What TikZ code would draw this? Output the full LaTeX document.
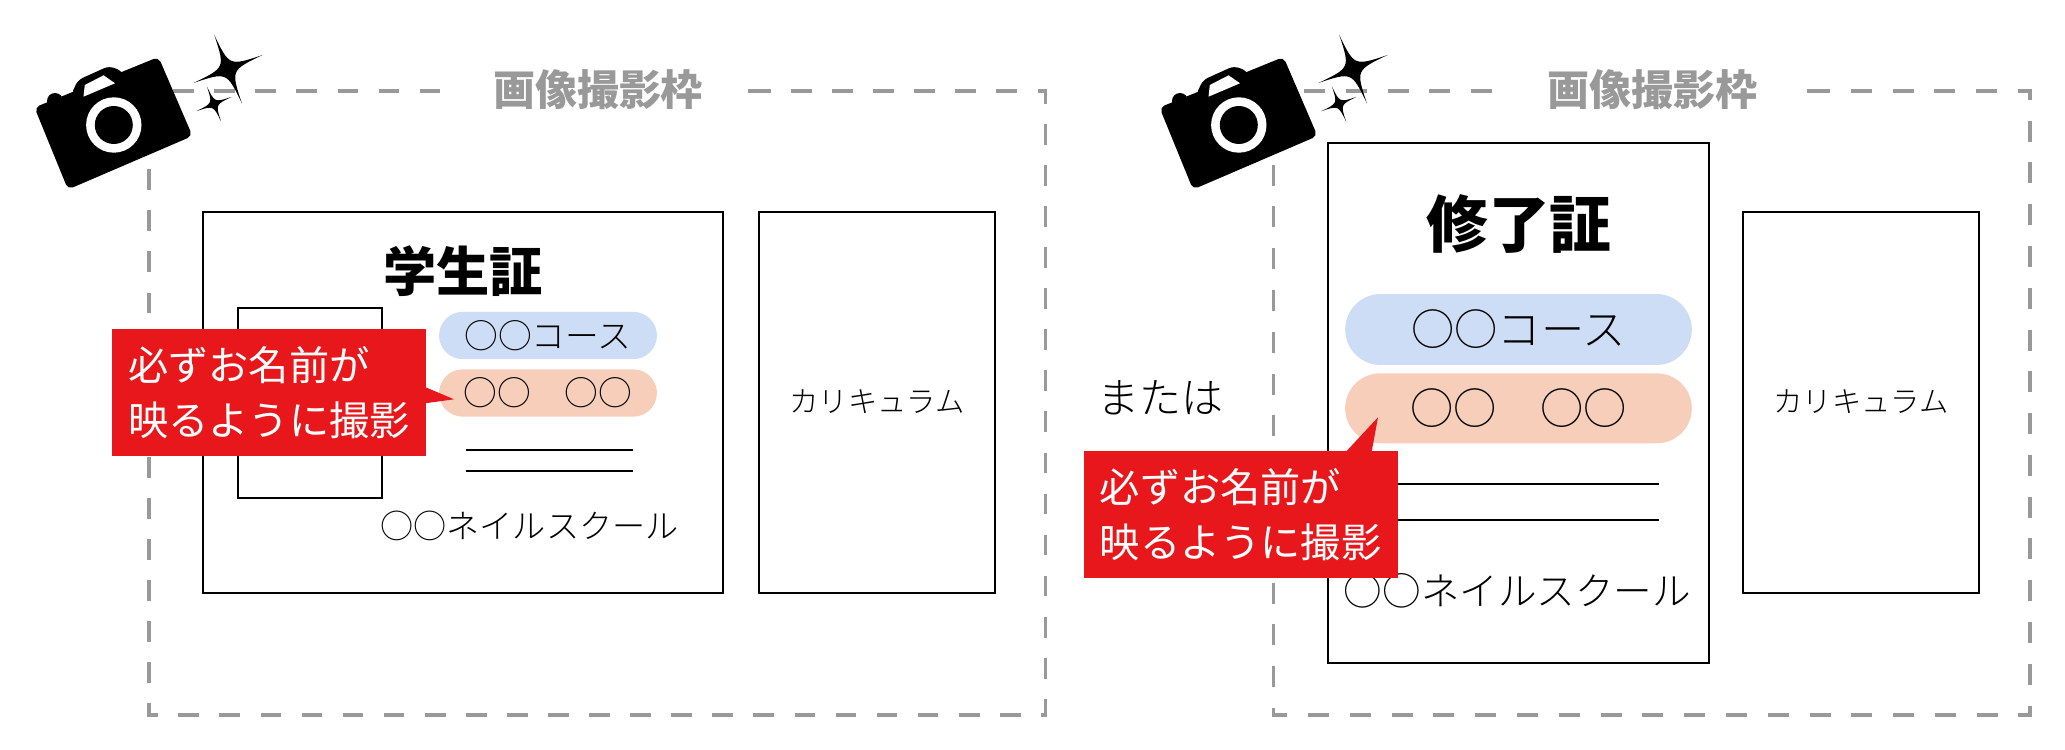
\documentclass[tikz,border=0pt]{standalone}
\usepackage{fontspec}
\setmainfont{Noto Sans CJK JP}
\newfontfamily\lightfont{Noto Sans CJK JP Light}
\usetikzlibrary{shapes.misc}
\definecolor{framegray}{HTML}{999999}
\definecolor{notered}{HTML}{E8171B}
\definecolor{pillblue}{HTML}{CDDDF5}
\definecolor{pillorange}{HTML}{F6CEBA}
\newcommand{\fsize}[1]{\fontsize{#1pt}{#1pt}\selectfont}
\tikzset{
  x=0.02cm, y=-0.02cm,
  framebox/.style={draw=framegray, line width=1.9pt},
  frametitle/.style={fill=white, text=framegray, font=\fsize{23.9}\bfseries, minimum height=28pt, inner sep=0pt},
  cardbox/.style={draw=black, line width=1.1pt, inner sep=0pt},
  pillbox/.style={rounded rectangle, inner sep=0pt, font=\lightfont},
  notebox/.style={fill=notered, text=white, inner sep=0pt, align=left, font=\fontsize{22.9pt}{31.5pt}\selectfont},
  lighttext/.style={inner sep=0pt, font=\lightfont},
  sparkle/.pic={
    \fill (0,-1) .. controls (0.06,-0.06) .. (1,0) .. controls (0.06,0.06) .. (0,1)
      .. controls (-0.06,0.06) .. (-1,0) .. controls (-0.06,-0.06) .. cycle;
  },
  camera/.pic={
    \fill[rounded corners=3pt] (158.5,57) -- (192.5,136) -- (68,189.5) -- (34.5,107.5) -- cycle;
    \fill[rounded corners=3pt] (122,71) -- (109,66) -- (78,80) -- (71,95) -- (90,110) -- (130,90) -- cycle;
    \fill (55,101) circle (8);
    \fill[white] (103.6,75.3) -- (115,83.3) -- (83.5,96.7) -- (84.8,85) -- cycle;
    \fill[white] (113.8,125) circle (27.7);
    \fill (113.8,125) circle (19);
    \pic[scale=37,rotate=22] at (228,69) {sparkle};
    \pic[scale=19,rotate=22] at (214,104) {sparkle};
  }
}
\begin{document}
\begin{tikzpicture}
  \useasboundingbox (0,0) rectangle (2065,750);
  % left frame
  \draw[framebox, dash pattern=on 11.78pt off 11.6pt] (750,91) -| (1045.7,715) -| (149,91) -- cycle;
  \node[frametitle, minimum width=171pt] (titleA) at (598,90) {画像撮影枠};
  \node[cardbox, minimum width=296pt, minimum height=216.6pt] (cardA) at (463,402.4) {};
  \node[cardbox, minimum width=134.3pt, minimum height=216.6pt] (backA) at (877,402.4) {};
  \node[lighttext, font=\lightfont\fsize{16.7}] (curA) at (877,402) {カリキュラム};
  \node[font=\fsize{30.3}\bfseries, inner sep=0pt] (nameA) at (463,271) {学生証};
  \node[cardbox, minimum width=82.3pt, minimum height=108pt] (photoA) at (310,403) {};
  \node[pillbox, fill=pillblue, minimum width=124pt, minimum height=26.9pt] (courseA) at (548,335.5) {\fsize{19.2}○○コース};
  \node[pillbox, fill=pillorange, minimum width=124pt, minimum height=26.9pt] (personA) at (548,393) {\fsize{19.2}○○　○○};
  \coordinate (lineAa) at (465.6,450);
  \coordinate (lineAb) at (632.7,450);
  \coordinate (lineAc) at (465.6,471);
  \coordinate (lineAd) at (632.7,471);
  \draw[line width=1.1pt] (lineAa) -- (lineAb);
  \draw[line width=1.1pt] (lineAc) -- (lineAd);
  \node[lighttext, font=\lightfont\fsize{18.85}] (schoolA) at (529.5,526) {○○ネイルスクール};
  \fill[notered] (425,387) -- (454,399.3) -- (425,403.3) -- cycle;
  \node[notebox, minimum width=179.2pt, minimum height=72.3pt] (noteA) at (269,392.8) {必ずお名前が\\映るように撮影};
  \pic at (0,0) {camera};

  % right frame
  \draw[framebox, dash pattern=on 11.95pt off 11.83pt] (1809,91) -| (2030,715) -| (1273.5,91) -- cycle;
  \node[frametitle, minimum width=176pt] (titleB) at (1652,90) {画像撮影枠};
  \node[cardbox, minimum width=216.6pt, minimum height=295.8pt] (cardB) at (1518.5,403) {};
  \node[cardbox, minimum width=134.3pt, minimum height=216.6pt] (backB) at (1861,402.4) {};
  \node[lighttext, font=\lightfont\fsize{16.7}] (curB) at (1861,402) {カリキュラム};
  \node[font=\fsize{35.2}\bfseries, inner sep=0pt] (nameB) at (1519,224) {修了証};
  \node[pillbox, fill=pillblue, minimum width=197.3pt, minimum height=40.4pt] (courseB) at (1518.5,329.5) {\fsize{24.6}○○コース};
  \node[pillbox, fill=pillorange, minimum width=197.3pt, minimum height=39.8pt] (personB) at (1518.5,408.3) {\fsize{24.6}○○　○○};
  \coordinate (lineBa) at (1360,484);
  \coordinate (lineBb) at (1659,484);
  \coordinate (lineBc) at (1360,520);
  \coordinate (lineBd) at (1659,520);
  \draw[line width=1.5pt] (lineBa) -- (lineBb);
  \draw[line width=1.5pt] (lineBc) -- (lineBd);
  \node[lighttext, font=\lightfont\fsize{21.95}] (schoolB) at (1517.5,590.7) {○○ネイルスクール};
  \fill[notered] (1345.7,452) -- (1378,417.3) -- (1371.6,452) -- cycle;
  \node[notebox, minimum width=178.6pt, minimum height=72.3pt] (noteB) at (1240.6,514.5) {必ずお名前が\\映るように撮影};
  \pic at (1125,0) {camera};

  \node[lighttext, font=\lightfont\fsize{23.9}] (orLabel) at (1160.5,398) {または};
\end{tikzpicture}
\end{document}
